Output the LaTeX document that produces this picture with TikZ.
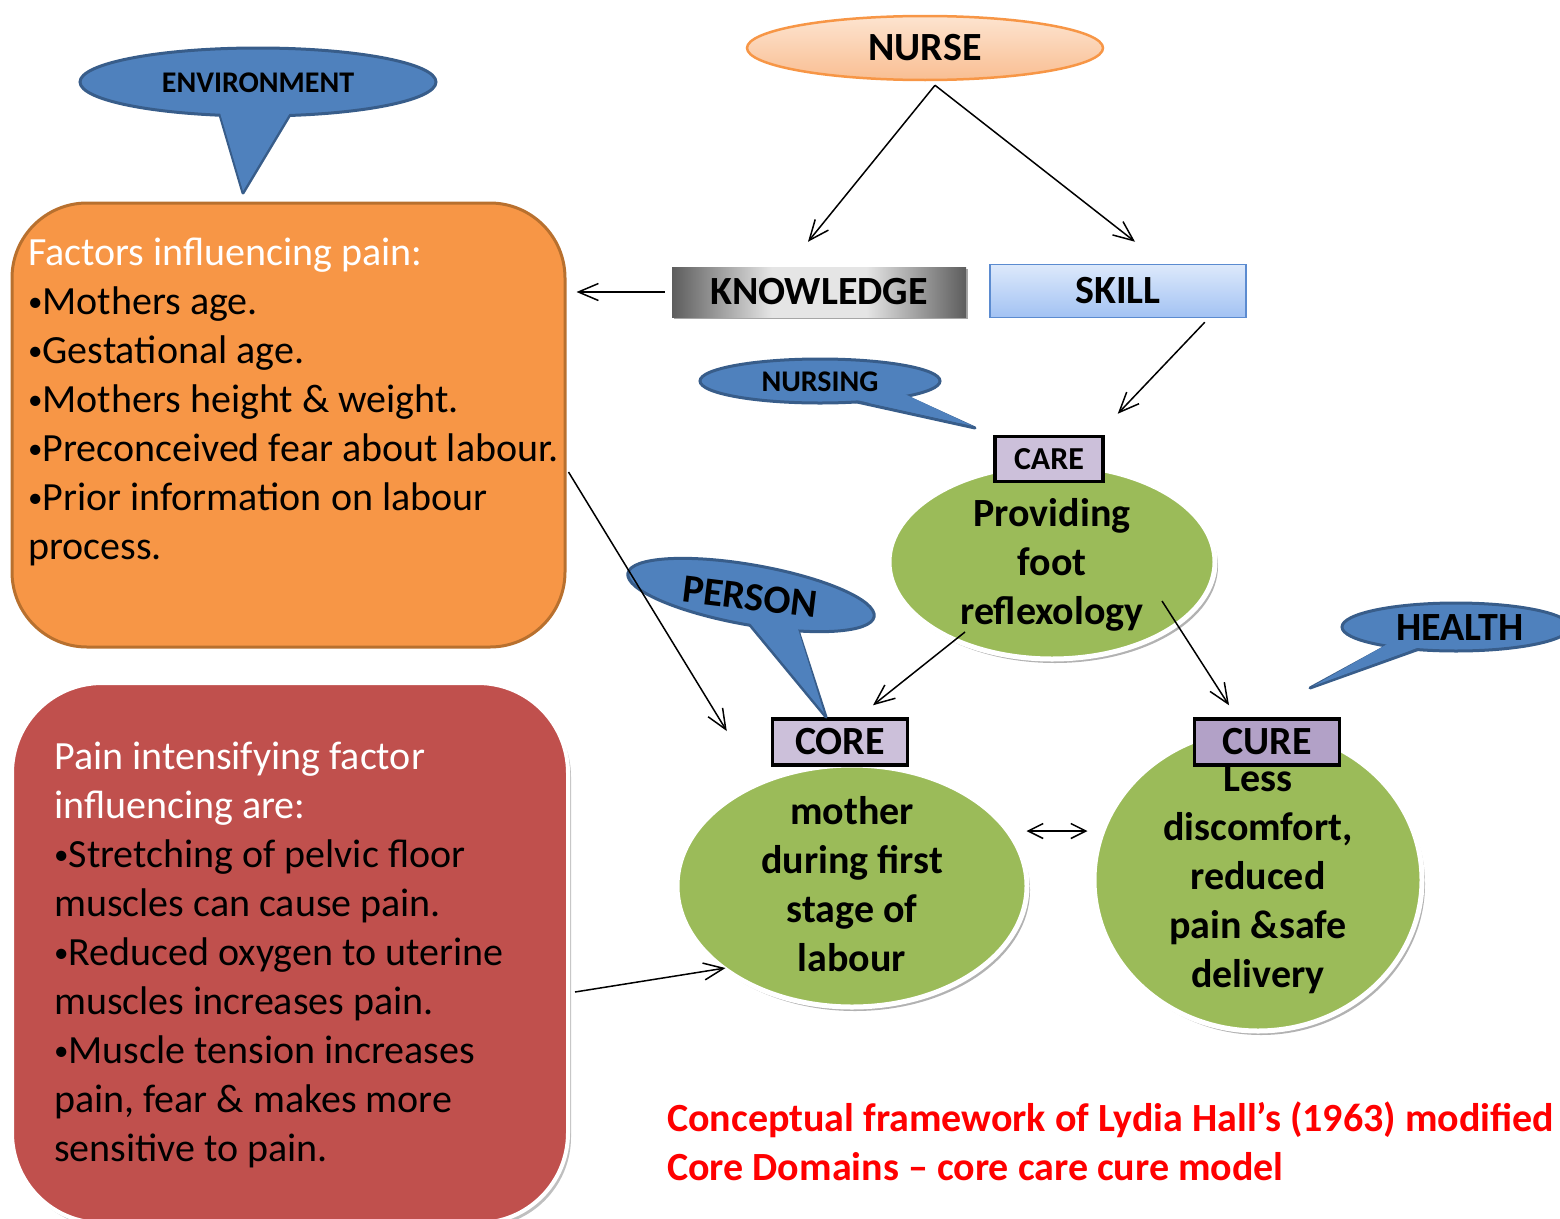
\documentclass[tikz,border=0pt]{standalone}
\usepackage{fontspec}
\setmainfont{Carlito}
\usetikzlibrary{shapes.geometric,arrows.meta,shadows,calc}
\definecolor{orangefill}{HTML}{F79646}
\definecolor{orangeedge}{HTML}{B8702E}
\definecolor{redfill}{HTML}{C0504D}
\definecolor{greenfill}{HTML}{9BBB59}
\definecolor{bluefill}{HTML}{4F81BD}
\definecolor{blueedge}{HTML}{385D8A}
\definecolor{lilac}{HTML}{CCC0DA}
\definecolor{lilacdark}{HTML}{B2A1C7}
\definecolor{peachtop}{HTML}{FDE4D0}
\definecolor{peachbot}{HTML}{F9BE92}
\definecolor{skilltop}{HTML}{DDE9FB}
\definecolor{skillbot}{HTML}{A2C2F3}
\definecolor{skilledge}{HTML}{5B8BD0}
\definecolor{capred}{HTML}{FF0000}
\newcommand\bul{\raisebox{3.5pt}{\fontsize{29}{30}\selectfont •}}
\pgfdeclarehorizontalshading{kshade}{100bp}{color(0bp)=(black); color(16bp)=(black!92); color(42bp)=(white!90!black); color(58bp)=(white!90!black); color(84bp)=(black!92); color(100bp)=(black)}
\tikzset{
  arr/.style={-{Straight Barb[length=20pt,width=17pt,line width=1.5pt]}, line width=1.5pt},
  dblarr/.style={{Straight Barb[length=15pt,width=15pt,line width=1.5pt]}-{Straight Barb[length=15pt,width=15pt,line width=1.5pt]}, line width=1.5pt},
  bodytext/.style={font=\fontsize{40}{49}\selectfont, align=left, inner sep=0pt, anchor=north west},
  elltext/.style={font=\bfseries\fontsize{40}{49}\selectfont, align=center, inner sep=0pt},
  greenell/.style={ellipse, fill=greenfill, draw=white, line width=5pt, drop shadow={shadow xshift=3pt, shadow yshift=-4pt, opacity=0.3, fill=black}},
  labelbox/.style={rectangle, draw=black, line width=3.5pt, font=\bfseries\fontsize{40}{44}\selectfont, inner sep=0pt},
  calltail/.style={fill=bluefill, draw=blueedge, line width=3pt, line join=round},
  callbody/.style={fill=bluefill, draw=blueedge, line width=3pt},
  calltailfill/.style={fill=bluefill},
}
\begin{document}
\begin{tikzpicture}[x=1pt,y=-1pt]
\useasboundingbox (0,0) rectangle (1560,1218);

% ---------- top: NURSE, KNOWLEDGE, SKILL ----------
\node[ellipse, top color=peachtop, bottom color=peachbot, draw=orangefill, line width=2.5pt,
      minimum width=356pt, minimum height=64pt, font=\bfseries\fontsize{40}{44}\selectfont] (nurse) at (925,48) {NURSE};
\node[rectangle, shading=kshade, minimum width=294pt, minimum height=50pt, inner sep=0pt,
      drop shadow={shadow xshift=2pt, shadow yshift=-2pt, opacity=0.35, fill=black},
      font=\bfseries\fontsize{40}{44}\selectfont] (knowledge) at (819,292) {KNOWLEDGE};
\node[rectangle, top color=skilltop, bottom color=skillbot, draw=skilledge, line width=1.5pt,
      minimum width=256pt, minimum height=53pt, inner sep=0pt,
      font=\bfseries\fontsize{40}{44}\selectfont] (skill) at (1118,291) {SKILL};

% ---------- ENVIRONMENT callout ----------
\path[calltail] (243,193) -- (218,108) -- (294,108) -- cycle;
\path[callbody] (258,82) ellipse[x radius=178, y radius=34];
\path[calltailfill] (243,191) -- (218,106) -- (294,106) -- cycle;
\node[font=\bfseries\fontsize{30}{34}\selectfont] (envtext) at (258,83) {ENVIRONMENT};

% ---------- orange box ----------
\node[rectangle, rounded corners=75pt, fill=orangefill, draw=orangeedge, line width=3pt,
      minimum width=553pt, minimum height=444pt] (factors) at (288.5,425) {};
\node[bodytext] (factorstext) at (28,238) {\textcolor{white}{Factors influencing pain:}\\
\bul Mothers age.\\
\bul Gestational age.\\
\bul Mothers height \& weight.\\
\bul Preconceived fear about labour.\\
\bul Prior information on labour\\
process.};

% ---------- NURSING callout ----------
\path[calltail] (975,428) -- (848,400) -- (896,392) -- cycle;
\path[callbody] (820,381) ellipse[x radius=120, y radius=22];
\path[calltailfill] (973,426) -- (848,398) -- (896,390) -- cycle;
\node[font=\bfseries\fontsize{30}{34}\selectfont] (nursingtext) at (820,382) {NURSING};

% ---------- CARE ----------
\node[greenell, minimum width=326pt, minimum height=194pt] (careell) at (1052,562) {};
\node[elltext] (caretext) at (1052,565) {Providing\\foot\\reflexology};
\node[labelbox, fill=lilac, minimum width=108pt, minimum height=45pt, font=\bfseries\fontsize{32}{36}\selectfont] (carelabel) at (1049,459) {CARE};

% ---------- CORE ----------
\node[greenell, minimum width=350pt, minimum height=242pt] (coreell) at (852,886) {};
\node[elltext] (coretext) at (852,884) {mother\\during first\\stage of\\labour};
\node[labelbox, fill=lilac, minimum width=135pt, minimum height=46pt] (corelabel) at (840,742) {CORE};

% ---------- CURE ----------
\node[greenell, minimum width=328pt, minimum height=302pt] (cureell) at (1258,880) {};
\node[elltext] (curetext) at (1258,880) {Less\\discomfort,\\reduced\\pain \&safe\\delivery};
\node[labelbox, fill=lilacdark, minimum width=145pt, minimum height=46pt] (curelabel) at (1267,742) {CURE};

% ---------- PERSON callout ----------
\path[calltail] (826,717) -- (740,613) -- (794,618) -- cycle;
\path[callbody, rotate around={-10:(751,595)}] (751,595) ellipse[x radius=125, y radius=30];
\path[calltailfill] (824,713) -- (740,611) -- (794,616) -- cycle;
\node[rotate=-7, font=\bfseries\fontsize{40}{44}\selectfont] (persontext) at (750,597) {PERSON};

% ---------- HEALTH callout ----------
\path[calltail] (1310,688) -- (1398,640) -- (1436,643) -- cycle;
\path[callbody] (1456,627) ellipse[x radius=114, y radius=24];
\path[calltailfill] (1313,686) -- (1398,638) -- (1436,641) -- cycle;
\node[font=\bfseries\fontsize{40}{44}\selectfont] (healthtext) at (1460,628) {HEALTH};

% ---------- red box ----------
\node[rectangle, rounded corners=90pt, fill=redfill, draw=white, line width=4pt,
      drop shadow={shadow xshift=3pt, shadow yshift=-4pt, opacity=0.25, fill=black},
      minimum width=556pt, minimum height=540pt] (painbox) at (290,953) {};
\node[bodytext] (paintext) at (54,742) {\textcolor{white}{Pain intensifying factor}\\
\textcolor{white}{influencing are:}\\
\bul Stretching of pelvic floor\\
muscles can cause pain.\\
\bul Reduced oxygen to uterine\\
muscles increases pain.\\
\bul Muscle tension increases\\
pain, fear \& makes more\\
sensitive to pain.};

% ---------- caption ----------
\node[bodytext, font=\bfseries\fontsize{40}{49}\selectfont, text=capred] (caption) at (667,1102)
  {Conceptual framework of Lydia Hall’s (1963) modified\\Core Domains – core care cure model};

% ---------- connectors ----------
\draw[arr] ($(nurse.south)+(10,4)$) -- ($(knowledge.north)+(-11,-25)$);
\draw[arr] ($(nurse.south)+(10,4)$) -- ($(skill.north)+(17,-22)$);
\draw[arr] ($(knowledge.west)+(-7,0)$) -- ($(factors.east |- knowledge.west)+(10,0)$);
\draw[arr] ($(skill.south east)+(-42,4)$) -- ($(carelabel.north east)+(13,-21)$);
\draw[arr] ($(careell.center)+(-87,70)$) -- ($(corelabel.north)+(33,-12)$);
\draw[arr] ($(careell.center)+(110,39)$) -- ($(curelabel.north)+(-38,-12)$);
\draw[arr] ($(factors.east)+(2,47)$) -- ($(corelabel.west)+(-44,-11)$);
\draw[arr] ($(painbox.east)+(5,39)$) -- ($(coreell.west)+(51,82)$);
\draw[dblarr] ($(coreell.east)+(-3,-55)$) -- ($(cureell.west)+(-4,-49)$);
\end{tikzpicture}
\end{document}
